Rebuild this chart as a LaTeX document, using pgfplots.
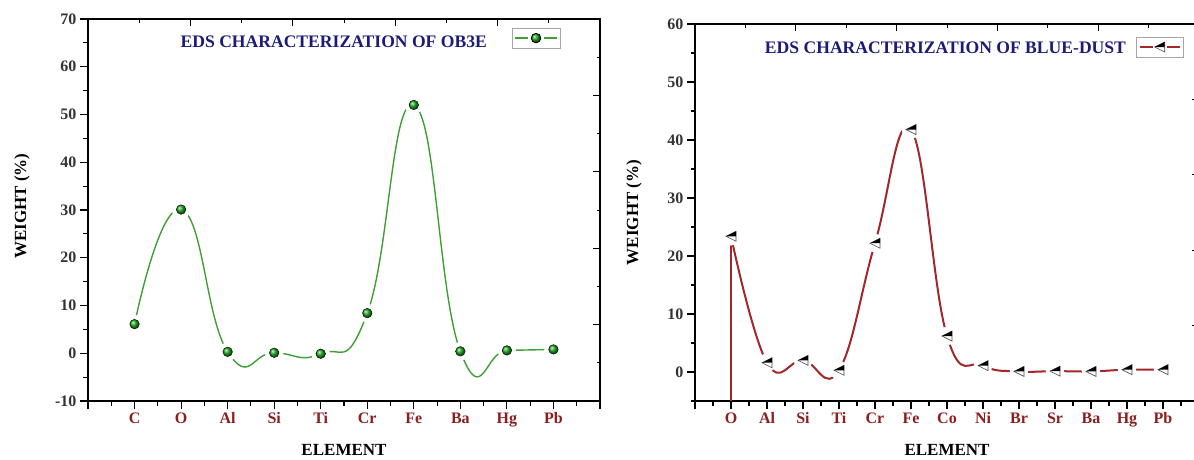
\documentclass[border=0pt]{standalone}
\usepackage{fontspec}
\setmainfont{Liberation Serif}
\usepackage{pgfplots}
\usepackage{pgfplotstable}
\pgfplotsset{compat=1.18}

\definecolor{gline}{HTML}{3F9F35}
\definecolor{gball}{HTML}{1AA41A}
\definecolor{rline}{HTML}{A3262A}
\definecolor{navy}{HTML}{1C1C78}
\definecolor{wine}{HTML}{8B1E1E}
\definecolor{tickgray}{HTML}{333333}

\pgfdeclareplotmark{halftri}{%
  \pgfpathmoveto{\pgfqpoint{-\pgfplotmarksize}{0pt}}%
  \pgfpathlineto{\pgfqpoint{\pgfplotmarksize}{\pgfplotmarksize}}%
  \pgfpathlineto{\pgfqpoint{\pgfplotmarksize}{-\pgfplotmarksize}}%
  \pgfpathclose
  \pgfsetfillcolor{white}%
  \pgfusepathqfillstroke
  \pgfpathmoveto{\pgfqpoint{-\pgfplotmarksize}{0pt}}%
  \pgfpathlineto{\pgfqpoint{\pgfplotmarksize}{\pgfplotmarksize}}%
  \pgfpathlineto{\pgfqpoint{\pgfplotmarksize}{0pt}}%
  \pgfpathclose
  \pgfsetfillcolor{black}%
  \pgfusepathqfill
}

\pgfplotstableread{
x y
0 6.1
1 30.1
2 0.3
3 0.1
4 -0.1
5 8.4
6 52.0
7 0.4
8 0.6
9 0.8
}\obe

\pgfplotstableread{
x y
0 23.4
1 1.6
2 2.0
3 0.3
4 22.2
5 41.8
6 6.2
7 1.1
8 0.1
9 0.15
10 0.1
11 0.4
12 0.4
}\blue

\pgfplotsset{
  edsmain/.style={
    scale only axis,
    axis line style={line width=1.4pt, black},
    every tick/.style={line width=1.1pt, black},
    major tick length=8pt, minor tick length=4.5pt,
    tick align=outside,
    xtick pos=left, ytick pos=left,
    /pgf/number format/assume math mode=true,
    tick label style={font=\bfseries\fontsize{16}{18}\selectfont},
    xticklabel style={text=wine},
    yticklabel style={text=tickgray},
    label style={font=\bfseries\fontsize{17}{19}\selectfont, text=black},
    clip=false,
  },
  edsover/.style={
    scale only axis,
    axis line style={line width=1.2pt, black},
    every tick/.style={line width=1.0pt, black},
    major tick length=7pt, minor tick length=3.5pt,
    tick align=inside,
    xtick pos=right, ytick pos=right,
    xmin=0, xmax=10, ymin=0, ymax=10,
    xtick={0,2,...,10}, minor xtick={1,3,...,9},
    ytick={0,2,...,10}, minor ytick={1,3,...,9},
    xticklabels={}, yticklabels={},
  },
}

\begin{document}
\begin{tikzpicture}
\useasboundingbox (0pt,0pt) rectangle (1194pt,459pt);

% ---------------- left chart ----------------
\begin{axis}[edsover, at={(88pt,58pt)}, anchor=south west, width=512pt, height=382pt]
\end{axis}
\begin{axis}[edsmain, at={(88pt,58pt)}, anchor=south west, width=512pt, height=382pt,
  xmin=-1, xmax=10, ymin=-10, ymax=70,
  xtick={-1,0,...,10}, xticklabels={,C,O,Al,Si,Ti,Cr,Fe,Ba,Hg,Pb,},
  minor xtick={-0.5,0.5,...,9.5},
  ytick={-10,0,...,70}, minor ytick={-5,5,...,65},
  xlabel={ELEMENT}, ylabel={WEIGHT (\%)},
  xlabel style={at={(axis description cs:0.5,-0.128)}, anchor=center},
  ylabel style={at={(axis description cs:-0.129,0.51)}, anchor=center},
  legend style={at={(axis description cs:0.876,0.950)}, anchor=center,
    draw=gray!70, line width=0.8pt, fill=white, inner xsep=2pt, inner ysep=5pt,
    nodes={inner sep=0pt}, font=\fontsize{4}{4}\selectfont},
  legend image code/.code={%
    \draw[gline, line width=1.4pt] (0pt,0pt) -- (13pt,0pt);
    \draw[gline, line width=1.4pt] (29pt,0pt) -- (42pt,0pt);
    \draw[#1] plot coordinates {(21pt,0pt)};
  },
]
\addplot[gline, line width=1.4pt, smooth, tension=0.85, forget plot] table[x=x,y=y] {\obe};
\addplot[only marks, mark=*, mark size=9, mark options={draw=white, fill=white}, forget plot] table[x=x,y=y] {\obe};
\addplot[only marks, mark=ball, mark size=4.8, mark options={ball color=gball}, ball color=gball] table[x=x,y=y] {\obe};
\addlegendentry{}
\node[font=\bfseries\fontsize{17.6}{19}\selectfont, text=navy] at (rel axis cs:0.480,0.941) {EDS CHARACTERIZATION OF OB3E};
\end{axis}

% ---------------- right chart ----------------
\begin{axis}[edsover, at={(695pt,58pt)}, anchor=south west, width=504pt, height=377pt]
\end{axis}
\begin{axis}[edsmain, at={(695pt,58pt)}, anchor=south west, width=504pt, height=377pt,
  xmin=-1, xmax=13, ymin=-5, ymax=60,
  xtick={-1,0,...,13}, xticklabels={,O,Al,Si,Ti,Cr,Fe,Co,Ni,Br,Sr,Ba,Hg,Pb,},
  minor xtick={-0.5,0.5,...,12.5},
  ytick={0,10,...,60}, minor ytick={-5,5,...,55},
  xlabel={ELEMENT}, ylabel={WEIGHT (\%)},
  xlabel style={at={(axis description cs:0.5,-0.130)}, anchor=center},
  ylabel style={at={(axis description cs:-0.121,0.5)}, anchor=center},
  legend style={at={(axis description cs:0.923,0.939)}, anchor=center,
    draw=gray!70, line width=0.8pt, fill=white, inner xsep=2pt, inner ysep=5pt,
    nodes={inner sep=0pt}, font=\fontsize{4}{4}\selectfont},
  legend image code/.code={%
    \draw[rline, line width=2pt] (0pt,0pt) -- (13pt,0pt);
    \draw[rline, line width=2pt] (27pt,0pt) -- (40pt,0pt);
    \draw[#1] plot coordinates {(20pt,0pt)};
  },
]
\addplot[rline, line width=2pt, smooth, tension=0.72, forget plot] table[x=x,y=y] {\blue};
\addplot[only marks, mark=*, mark size=9, mark options={draw=white, fill=white}, forget plot] table[x=x,y=y] {\blue};
\addplot[rline, line width=2pt, forget plot] coordinates {(0,-5) (0,23.4)};
\addplot[only marks, mark=halftri, mark size=5, mark options={draw=black!70, line width=0.6pt}] table[x=x,y=y] {\blue};
\addlegendentry{}
\node[font=\bfseries\fontsize{17.6}{19}\selectfont, text=navy] at (rel axis cs:0.497,0.938) {EDS CHARACTERIZATION OF BLUE-DUST};
\end{axis}
\end{tikzpicture}
\end{document}
